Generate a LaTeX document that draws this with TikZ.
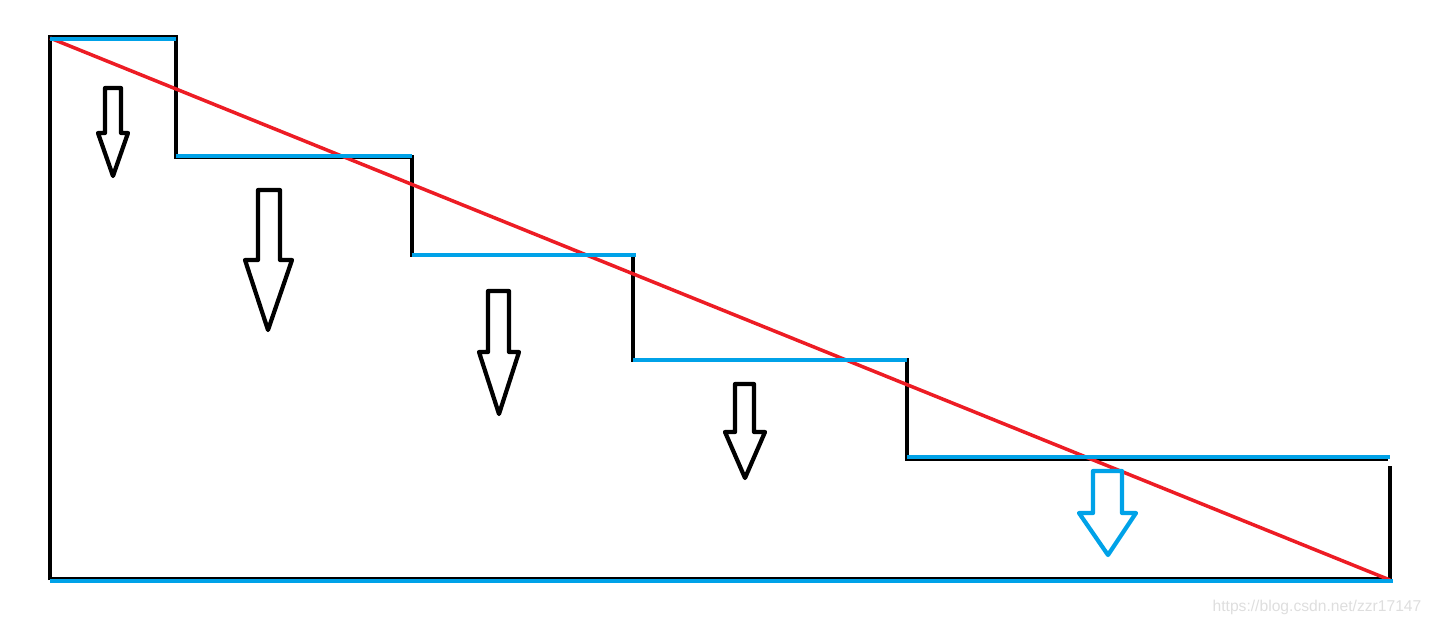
\documentclass[tikz,border=0pt]{standalone}
\usepackage{fontspec}
\newfontfamily\markfont{Liberation Sans}
\usepackage{tikz}
\definecolor{StepBlue}{RGB}{0,162,232}
\definecolor{SlopeRed}{RGB}{237,28,36}
\tikzset{
	outline/.style={black, line width=1.3pt},
	tread/.style={StepBlue, line width=1.4pt},
	slope/.style={SlopeRed, line width=1pt},
	droparrow/.style={black, line width=1.2pt, line join=round},
	droparrowblue/.style={StepBlue, line width=1.2pt, line join=round},
	watermark/.style={black!13, font=\markfont\fontsize{4.45pt}{5pt}\selectfont, inner sep=0pt}
}

\begin{document}
\begin{tikzpicture}[x=0.01cm, y=-0.01cm]
		\useasboundingbox (0,0) rectangle (1433,626);
		
		% Staircase outline
		\draw[outline] (50,580) -- (50,37) -- (176,37) -- (176,157) -- (412,157)
			-- (412,255) -- (633,255) -- (633,360) -- (907,360) -- (907,459) -- (1388,459);
		\draw[outline] (1390,466) -- (1390,580);
		\draw[outline] (50,579) -- (1390,579);
		
		% Diagonal from top to bottom corner
		\draw[slope] (50,38) -- (1390,580);
		
		% Treads
		\draw[tread] (50,39) -- (176,39);
		\draw[tread] (176,156) -- (412,156);
		\draw[tread] (412,255) -- (636,255);
		\draw[tread] (633,360) -- (907,360);
		\draw[tread] (907,457) -- (1390,457);
		\draw[tread] (50,581) -- (1393,581);
		
		% Downward arrows
		\draw[droparrow] (105,88) -- (121,88) -- (121,133) -- (128,133) -- (113,176)
			-- (98,133) -- (105,133) -- cycle;
		\draw[droparrow] (258,190) -- (280,190) -- (280,260) -- (292,260) -- (268,330)
			-- (245,260) -- (258,260) -- cycle;
		\draw[droparrow] (488,291) -- (509,291) -- (509,352) -- (519,352) -- (499,414)
			-- (479,352) -- (488,352) -- cycle;
		\draw[droparrow] (735,384) -- (754,384) -- (754,432) -- (765,432) -- (745,478)
			-- (725,432) -- (735,432) -- cycle;
		\draw[droparrowblue] (1093,471) -- (1122,471) -- (1122,513) -- (1136,513) -- (1108,555)
			-- (1079,513) -- (1093,513) -- cycle;
		
		% Source mark
		\node[watermark] (mark) at (1317,607) {https://blog.csdn.net/zzr17147};
	\end{tikzpicture}
\end{document}
